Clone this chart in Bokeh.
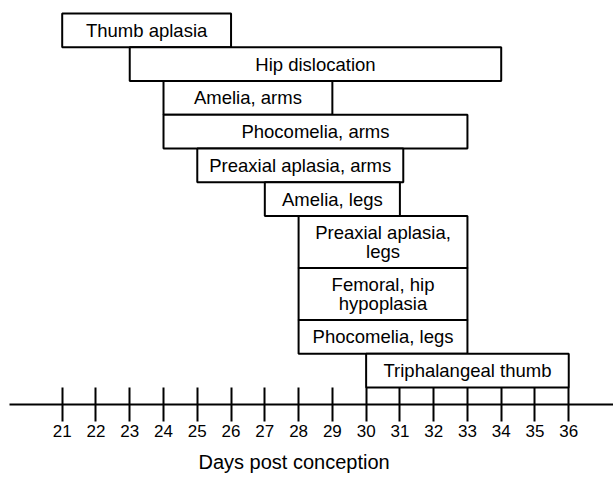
from bokeh.plotting import figure
from bokeh.models import Range1d, FixedTicker, ColumnDataSource, Title
from bokeh.embed import file_html
from bokeh.resources import INLINE
from bokeh.core.properties import value

# ---- data ----
labels = [
    "Thumb aplasia",
    "Hip dislocation",
    "Amelia, arms",
    "Phocomelia, arms",
    "Preaxial aplasia, arms",
    "Amelia, legs",
    "Preaxial aplasia,\nlegs",
    "Femoral, hip\nhypoplasia",
    "Phocomelia, legs",
    "Triphalangeal thumb",
]
start_day = [21, 23, 24, 24, 25, 27, 28, 28, 28, 30]
end_day = [26, 34, 29, 33, 31.1, 31, 33, 33, 33, 36]
days = list(range(21, 37))
x_title = "Days post conception"

# ---- layout of the stacked boxes (row height from number of text lines) ----
line_counts = [lab.count("\n") + 1 for lab in labels]
heights = [1.0 if n == 1 else 1.54 for n in line_counts]
tops, bottoms = [], []
cur = sum(heights)
for h in heights:
    tops.append(cur)
    bottoms.append(cur - h)
    cur -= h
mid_x = [(a + b) / 2 for a, b in zip(start_day, end_day)]
mid_y = [(a + b) / 2 for a, b in zip(tops, bottoms)]

src = ColumnDataSource(dict(left=start_day, right=end_day, top=tops, bottom=bottoms,
                            label=labels, mx=mid_x, my=mid_y))

px_per_day = 33.77
unit = 33.75
W, H = 613, 481
left_pad = 9
frame_w = W - left_pad
frame_h = 404
x0 = 21 - (61.7 - left_pad) / px_per_day
y_top = sum(heights) + 13 / unit
y_bot = y_top - frame_h / unit

p = figure(width=W, height=H, output_backend="svg", toolbar_location=None,
           x_range=Range1d(x0, x0 + frame_w / px_per_day),
           y_range=Range1d(y_bot, y_top),
           y_axis_location=None,
           min_border_left=left_pad, min_border_right=0, min_border_top=0,
           min_border_bottom=H - frame_h)
p.outline_line_color = None
p.xgrid.grid_line_color = None
p.ygrid.grid_line_color = None
p.background_fill_color = "white"
p.border_fill_color = "white"

p.quad(left="left", right="right", top="top", bottom="bottom", source=src,
       fill_color="white", line_color="black", line_width=2)
p.text(x="mx", y="my", text="label", source=src, text_align="center",
       text_baseline="middle", text_font=value("Liberation Sans"),
       text_font_size="18.5px", text_line_height=0.94, text_color="black")

ax = p.xaxis[0]
ax.ticker = FixedTicker(ticks=days)
ax.axis_line_width = 2
ax.axis_line_color = "black"
ax.major_tick_in = 17
ax.major_tick_out = 17
ax.major_tick_line_width = 2
ax.major_tick_line_color = "black"
ax.minor_tick_line_color = None
ax.major_label_standoff = 3
ax.major_label_text_font = "Liberation Sans"
ax.major_label_text_font_size = "17px"
ax.major_label_text_color = "black"

p.add_layout(Title(text=x_title, align="left", offset=189, standoff=18,
                   text_font="Liberation Sans", text_font_size="20px",
                   text_font_style="normal", text_color="black"), "below")

open("out.html", "w").write(file_html(p, INLINE))
